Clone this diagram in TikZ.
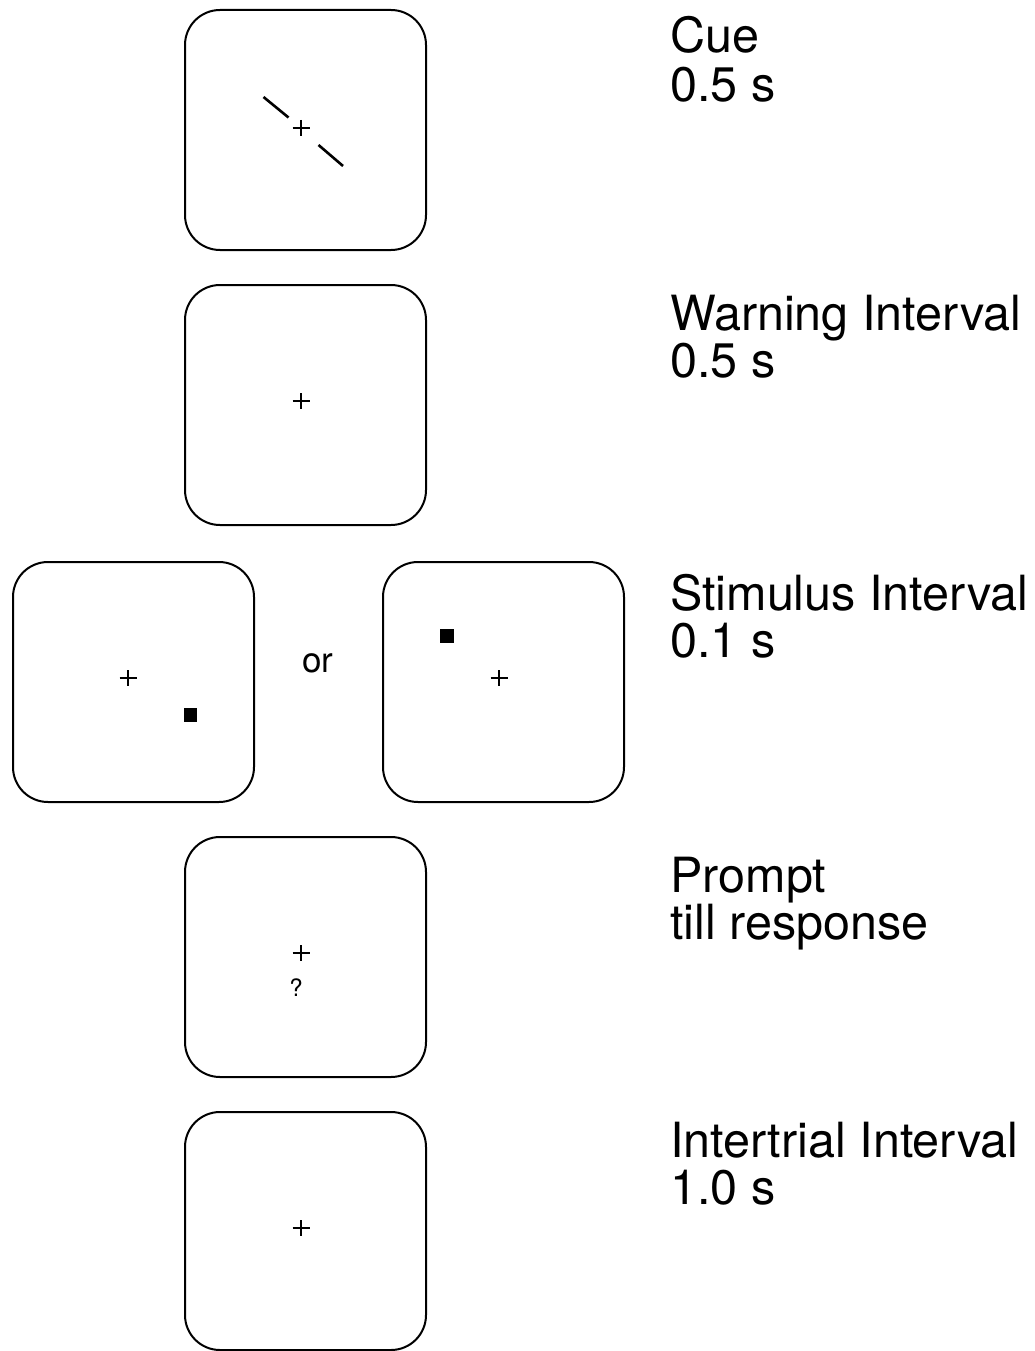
\documentclass[tikz,border=0pt]{standalone}
\usepackage{fontspec}
\setmainfont{TeX Gyre Heros}
\begin{document}
\begin{tikzpicture}[x=1pt,y=-1pt,
  screen/.style={draw=black, line width=2pt, rounded corners=35pt, minimum width=241pt, minimum height=240pt, inner sep=0pt, outer sep=0pt},
  lbl/.style={anchor=base west, inner sep=0pt, font=\fontsize{48.5}{48}\selectfont},
  fix/.pic={\draw[line width=1.6pt] (-8.5,0) -- (8.5,0) (0,-8) -- (0,8);},
  stim/.style={fill=black, draw=none}]
\useasboundingbox (0,0) rectangle (1034,1351);
% screens
\node[screen] (cue) at (305.5,130) {};
\node[screen] (warn) at (305.5,405) {};
\node[screen] (stimL) at (133.5,682) {};
\node[screen] (stimR) at (503.5,682) {};
\node[screen] (prompt) at (305.5,957) {};
\node[screen, minimum height=238pt] (iti) at (305.5,1231) {};
% fixation crosses
\pic at (301,128) {fix};
\pic at (301,401) {fix};
\pic at (128,678) {fix};
\pic at (499,678) {fix};
\pic at (301,953) {fix};
\pic at (301,1228) {fix};
% cue lines
\draw[line width=2.6pt] (263.5,97) -- (288.5,117.5);
\draw[line width=2.6pt] (318.5,145) -- (343,166);
% stimuli
\fill[stim] (184,708) rectangle (197,722);
\fill[stim] (440,629) rectangle (454,643);
% or
\node[anchor=base, inner sep=0pt, font=\fontsize{35}{35}\selectfont] (or) at (318,672) {or};
% question mark
\node[anchor=base, inner sep=0pt, font=\fontsize{24}{24}\selectfont] (q) at (296,996) {?};
% labels
\node[lbl] (l1a) at (670,53) {Cue};
\node[lbl] (l1b) at (670,102) {0.5 s};
\node[lbl] (l2a) at (670,330) {Warning Interval};
\node[lbl] (l2b) at (670,377) {0.5 s};
\node[lbl] (l3a) at (670,610) {Stimulus Interval};
\node[lbl] (l3b) at (670,657) {0.1 s};
\node[lbl] (l4a) at (670,892) {Prompt};
\node[lbl] (l4b) at (670,939) {till response};
\node[lbl] (l5a) at (670,1157) {Intertrial Interval};
\node[lbl] (l5b) at (670,1204) {1.0 s};
\end{tikzpicture}
\end{document}
